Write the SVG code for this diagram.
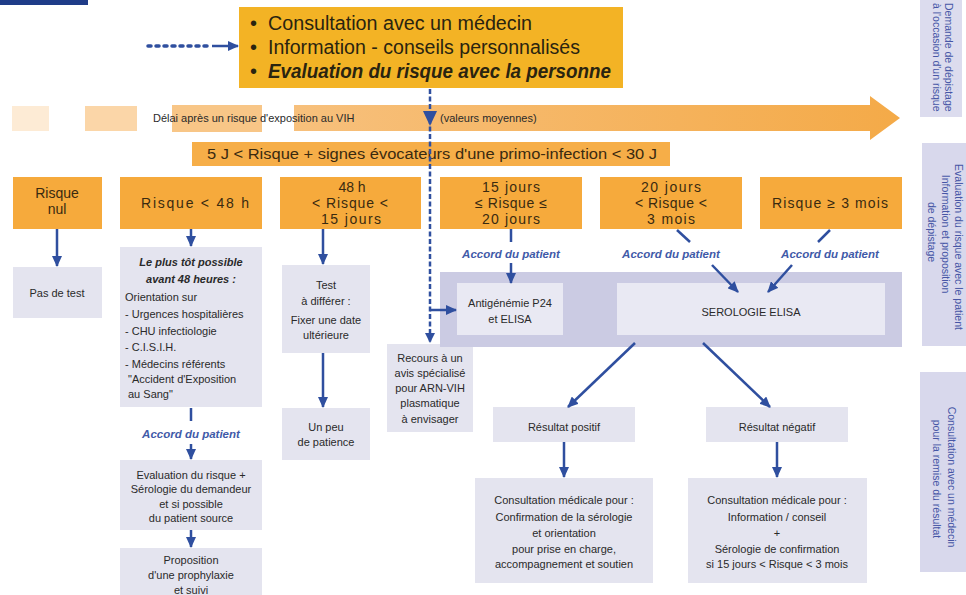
<svg xmlns="http://www.w3.org/2000/svg" width="966" height="595" viewBox="0 0 966 595">
<defs>
<style>
.gold{fill:#F3B325}
.cat{fill:#F6AA3C}
.lt{fill:#E4E4EF}
.inner{fill:#E9E9F3}
.t{font-family:"Liberation Sans",Arial,sans-serif;font-size:11px;fill:#2a2a2a;text-anchor:middle}
.tl{font-family:"Liberation Sans",Arial,sans-serif;font-size:11px;fill:#2a2a2a}
.bi{font-weight:bold;font-style:italic}
.ct{font-family:"Liberation Sans",Arial,sans-serif;font-size:14px;fill:#3a2a10;text-anchor:middle}
.acc{font-family:"Liberation Sans",Arial,sans-serif;font-size:11.5px;font-style:italic;font-weight:bold;fill:#3F5AA8;text-anchor:middle}
.top{font-family:"Liberation Sans",Arial,sans-serif;font-size:20px;fill:#2a2410}
.side{font-family:"Liberation Sans",Arial,sans-serif;font-size:10.5px;fill:#4656A6}
.c{stroke:#2F4F9F;stroke-width:2.5;fill:none}
.ca{stroke:#2F4F9F;stroke-width:2.5;fill:none;marker-end:url(#ah)}
</style>
<marker id="ah" markerUnits="userSpaceOnUse" markerWidth="11" markerHeight="10" refX="10" refY="5" orient="auto">
<path d="M0,0 L11,5 L0,10 z" fill="#2F4F9F"/>
</marker>
<linearGradient id="og" x1="0" y1="0" x2="1" y2="0">
<stop offset="0" stop-color="#F7C07C"/>
<stop offset="1" stop-color="#F4AA48"/>
</linearGradient>
</defs>
<rect width="966" height="595" fill="#ffffff"/>
<rect x="0" y="0" width="88" height="5" fill="#1F3C88"/>

<!-- side panel -->
<g id="side1">
<rect x="920" y="0" width="42" height="117" fill="#DCDCEE"/>
<text class="side" font-size="10" transform="translate(945,3) rotate(90)">Demande de dépistage</text>
<text class="side" font-size="10" transform="translate(933,3) rotate(90)">à l'occasion d'un risque</text>
</g>
<g id="side2">
<rect x="922" y="143" width="44" height="203" fill="#D8D8EC"/>
<text class="side" text-anchor="middle" transform="translate(955,247) rotate(90)">Evaluation du risque avec le patient</text>
<text class="side" text-anchor="middle" transform="translate(942,234) rotate(90)">Information et proposition</text>
<text class="side" text-anchor="middle" transform="translate(928,232) rotate(90)">de dépistage</text>
</g>
<g id="side3">
<rect x="920" y="372" width="46" height="200" fill="#D8D8EC"/>
<text class="side" text-anchor="middle" transform="translate(948,477) rotate(90)">Consultation avec un médecin</text>
<text class="side" text-anchor="middle" transform="translate(933,479) rotate(90)">pour la remise du résultat</text>
</g>

<!-- time band -->
<g id="band">
<rect x="12" y="106" width="37" height="25" fill="#FDEBD5"/>
<rect x="85" y="106" width="52" height="25" fill="#FBD6A8"/>
<rect x="172" y="105" width="90" height="27" fill="#F8C687"/>
<path d="M294,105 L870,105 L870,96 L900,118 L870,140 L870,131 L294,131 z" fill="url(#og)"/>
<text class="tl" x="153" y="122" font-size="12" fill="#3a3a3a">Délai après un risque d'exposition au VIH</text>
<text class="tl" x="440" y="122" font-size="12" fill="#3a3a3a">(valeurs moyennes)</text>
</g>

<g id="top">
<rect class="gold" x="239" y="7" width="384" height="81"/>
<text class="top" x="250" y="30">•</text>
<text class="top" x="250" y="54">•</text>
<text class="top" x="250" y="78">•</text>
<text class="top" x="268" y="30" textLength="264" lengthAdjust="spacingAndGlyphs">Consultation avec un médecin</text>
<text class="top" x="268" y="54" textLength="312" lengthAdjust="spacingAndGlyphs">Information - conseils personnalisés</text>
<text class="top bi" x="268" y="78" textLength="343" lengthAdjust="spacingAndGlyphs">Evaluation du risque avec la personne</text>
</g>

<g id="primo">
<rect x="192" y="142" width="478" height="24" fill="#F6AE48"/>
<text class="ct" font-size="13" x="432" y="159" textLength="450" lengthAdjust="spacingAndGlyphs">5 J &lt; Risque + signes évocateurs d'une primo-infection &lt; 30 J</text>
</g>

<g id="c1">
<rect class="cat" x="13" y="177" width="89" height="52"/>
<text class="ct" x="57" y="198">Risque</text>
<text class="ct" x="57" y="214">nul</text>
</g>
<g id="c2">
<rect class="cat" x="120" y="177" width="142" height="52"/>
<text class="ct" x="195" y="208" textLength="108" lengthAdjust="spacing">Risque &lt; 48 h</text>
</g>
<g id="c3">
<rect class="cat" x="280" y="177" width="141" height="52"/>
<text class="ct" x="352" y="192">48 h</text>
<text class="ct" x="350" y="208" textLength="76" lengthAdjust="spacing">&lt; Risque &lt;</text>
<text class="ct" x="351" y="224" textLength="60" lengthAdjust="spacing">15 jours</text>
</g>
<g id="c4">
<rect class="cat" x="440" y="177" width="142" height="52"/>
<text class="ct" x="511" y="192" textLength="58" lengthAdjust="spacing">15 jours</text>
<text class="ct" x="511" y="208" textLength="72" lengthAdjust="spacing">≤ Risque ≤</text>
<text class="ct" x="511" y="224" textLength="58" lengthAdjust="spacing">20 jours</text>
</g>
<g id="c5">
<rect class="cat" x="600" y="177" width="142" height="52"/>
<text class="ct" x="671" y="192" textLength="60" lengthAdjust="spacing">20 jours</text>
<text class="ct" x="671" y="208" textLength="72" lengthAdjust="spacing">&lt; Risque &lt;</text>
<text class="ct" x="671" y="224" textLength="48" lengthAdjust="spacing">3 mois</text>
</g>
<g id="c6">
<rect class="cat" x="760" y="177" width="142" height="52"/>
<text class="ct" x="830" y="208" textLength="116" lengthAdjust="spacing">Risque ≥ 3 mois</text>
</g>

<g id="pasdetest">
<rect class="lt" x="13" y="267" width="89" height="51"/>
<text class="t" x="57" y="297">Pas de test</text>
</g>

<g id="plustot">
<rect class="lt" x="120" y="247" width="142" height="160"/>
<text class="t bi" x="191" y="266">Le plus tôt possible</text>
<text class="t bi" x="191" y="283">avant 48 heures :</text>
<text class="tl" x="125" y="301">Orientation sur</text>
<text class="tl" x="125" y="318">- Urgences hospitalières</text>
<text class="tl" x="125" y="335">- CHU infectiologie</text>
<text class="tl" x="125" y="351">- C.I.S.I.H.</text>
<text class="tl" x="125" y="368">- Médecins référents</text>
<text class="tl" x="128" y="383">"Accident d'Exposition</text>
<text class="tl" x="128" y="398">au Sang"</text>
</g>

<g id="evaluation">
<rect class="lt" x="120" y="460" width="142" height="70"/>
<text class="t" x="191" y="479">Evaluation du risque +</text>
<text class="t" x="191" y="493">Sérologie du demandeur</text>
<text class="t" x="191" y="508">et si possible</text>
<text class="t" x="191" y="522">du patient source</text>
</g>

<g id="proposition">
<rect class="lt" x="120" y="548" width="142" height="47"/>
<text class="t" x="191" y="564">Proposition</text>
<text class="t" x="191" y="579">d'une prophylaxie</text>
<text class="t" x="191" y="594">et suivi</text>
</g>

<g id="differer">
<rect class="lt" x="282" y="265" width="88" height="88"/>
<text class="t" x="326" y="289">Test</text>
<text class="t" x="326" y="305">à différer :</text>
<text class="t" x="326" y="324">Fixer une date</text>
<text class="t" x="326" y="339">ultérieure</text>
</g>

<g id="patience">
<rect class="lt" x="282" y="408" width="88" height="52"/>
<text class="t" x="326" y="431">Un peu</text>
<text class="t" x="326" y="446">de patience</text>
</g>

<g id="recours">
<rect class="lt" x="387" y="344" width="86" height="88"/>
<text class="t" x="430" y="362">Recours à un</text>
<text class="t" x="430" y="377">avis spécialisé</text>
<text class="t" x="430" y="392">pour ARN-VIH</text>
<text class="t" x="430" y="407">plasmatique</text>
<text class="t" x="430" y="423">à envisager</text>
</g>

<g id="tests">
<rect x="440" y="272" width="462" height="75" fill="#CBCBE3"/>
</g>
<g id="antigen">
<rect class="inner" x="457" y="283" width="106" height="52"/>
<text class="t" x="510" y="307">Antigénémie P24</text>
<text class="t" x="510" y="323">et ELISA</text>
</g>
<g id="elisa">
<rect class="inner" x="617" y="283" width="268" height="52"/>
<text class="t" x="751" y="316">SEROLOGIE ELISA</text>
</g>

<g id="positif">
<rect class="lt" x="493" y="407" width="142" height="35"/>
<text class="t" x="564" y="431">Résultat positif</text>
</g>
<g id="negatif">
<rect class="lt" x="706" y="407" width="142" height="35"/>
<text class="t" x="777" y="431">Résultat négatif</text>
</g>

<g id="consult-pos">
<rect class="lt" x="475" y="478" width="178" height="105"/>
<text class="t" x="564" y="504">Consultation médicale pour :</text>
<text class="t" x="564" y="521">Confirmation de la sérologie</text>
<text class="t" x="564" y="537">et orientation</text>
<text class="t" x="564" y="553">pour prise en charge,</text>
<text class="t" x="564" y="568">accompagnement et soutien</text>
</g>
<g id="consult-neg">
<rect class="lt" x="688" y="478" width="179" height="105"/>
<text class="t" x="777" y="504">Consultation médicale pour :</text>
<text class="t" x="777" y="521">Information / conseil</text>
<text class="t" x="777" y="537">+</text>
<text class="t" x="777" y="553">Sérologie de confirmation</text>
<text class="t" x="777" y="568">si 15 jours &lt; Risque &lt; 3 mois</text>
</g>

<g id="connectors">
<line x1="148" y1="46" x2="210" y2="46" stroke="#2F4F9F" stroke-width="3.5" stroke-dasharray="3 5" stroke-linecap="round"/>
<line class="ca" x1="212" y1="46" x2="238" y2="46"/>
<line x1="430" y1="89" x2="430" y2="343" stroke="#2F4F9F" stroke-width="2.5" stroke-dasharray="5 2.5"/>
<path d="M423,111 L437,111 L430,126 z" fill="#2F4F9F"/>
<path d="M430,343 l-5,-10 l10,0 z" fill="#2F4F9F"/>
<line class="ca" x1="430" y1="310" x2="456" y2="310"/>
<line class="ca" x1="57" y1="229" x2="57" y2="266"/>
<line class="ca" x1="191" y1="229" x2="191" y2="246"/>
<line class="c" x1="191" y1="408" x2="191" y2="421"/>
<text class="acc" x="191" y="438">Accord du patient</text>
<line class="ca" x1="191" y1="444" x2="191" y2="459"/>
<line class="ca" x1="191" y1="530" x2="191" y2="547"/>
<line class="ca" x1="323" y1="229" x2="323" y2="264"/>
<line class="ca" x1="323" y1="353" x2="323" y2="407"/>
<line class="c" x1="511" y1="229" x2="511" y2="242"/>
<text class="acc" x="511" y="258">Accord du patient</text>
<line class="ca" x1="511" y1="263" x2="511" y2="283"/>
<line class="c" x1="677" y1="230" x2="690" y2="242"/>
<text class="acc" x="671" y="258">Accord du patient</text>
<line class="ca" x1="712" y1="265" x2="738" y2="292"/>
<line class="c" x1="830" y1="230" x2="818" y2="242"/>
<text class="acc" x="830" y="258">Accord du patient</text>
<line class="ca" x1="792" y1="265" x2="768" y2="292"/>
<line class="ca" x1="635" y1="343" x2="568" y2="407"/>
<line class="ca" x1="703" y1="343" x2="770" y2="407"/>
<line class="ca" x1="564" y1="442" x2="564" y2="477"/>
<line class="ca" x1="777" y1="442" x2="777" y2="477"/>
</g>
</svg>
